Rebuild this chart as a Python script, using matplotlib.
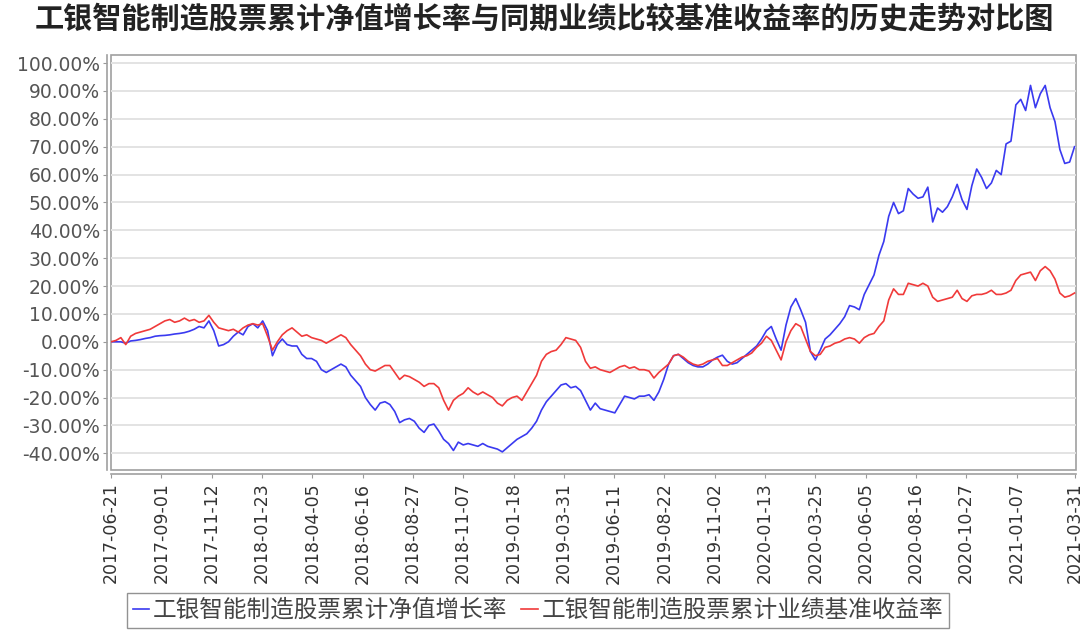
import pandas as pd
import matplotlib
matplotlib.use('Agg')
import matplotlib.pyplot as plt
import matplotlib.dates as mdates
from matplotlib.ticker import FuncFormatter, MultipleLocator

plt.rcParams['font.family'] = ['Noto Sans CJK SC', 'DejaVu Sans']

# data: weekly readings, in percent
START = '2017-06-21'
END = '2021-03-31'
dates = pd.date_range(START, END, freq='7D')

fund_nav = [
    0, 0, 0, -0.5, 0.3, 0.5, 0.8, 1.2, 1.5, 2,
    2.2, 2.3, 2.5, 2.8, 3, 3.3, 3.8, 4.5, 5.5, 5,
    7.5, 4, -1.5, -1, 0, 2, 3.5, 2.5, 5.5, 6.5,
    5, 7.5, 4, -5, -1, 1, -1, -1.5, -1.5, -4.5,
    -6, -6, -7, -10, -11, -10, -9, -8, -9, -12,
    -14, -16, -20, -22.5, -24.5, -22, -21.5, -22.5, -25, -29,
    -28, -27.5, -28.5, -31, -32.5, -30, -29.5, -32, -35, -36.5,
    -39, -36, -37, -36.5, -37, -37.5, -36.5, -37.5, -38, -38.5,
    -39.5, -38, -36.5, -35, -34, -33, -31, -28.5, -24.5, -21.5,
    -19.5, -17.5, -15.5, -15, -16.5, -16, -17.5, -21, -24.5, -22,
    -24, -24.5, -25, -25.5, -22.5, -19.5, -20, -20.5, -19.5, -19.5,
    -19, -21, -18, -13.5, -8, -5, -4.5, -6, -7.5, -8.5,
    -9, -9, -8, -6.5, -5.5, -4.8, -7, -8, -7.5, -6,
    -4.5, -3, -1.5, 1, 4, 5.5, 1, -3, 6, 12.5,
    15.5, 11.5, 7, -3.5, -6.5, -3, 1, 2.5, 4.5, 6.5,
    9, 13, 12.5, 11.5, 17, 20.5, 24, 31, 36, 45,
    50, 46, 47, 55, 53, 51.5, 52, 55.5, 43, 48,
    46.5, 48.5, 52, 56.5, 51, 47.5, 56, 62, 59, 55,
    57, 61.5, 60, 71, 72, 85, 87, 83, 92, 84,
    89, 92, 84, 79, 69, 64, 64.5, 70,
]

benchmark = [
    0, 0.5, 1.5, -1, 2, 3, 3.5, 4, 4.5, 5.5,
    6.5, 7.5, 8, 7, 7.5, 8.5, 7.5, 8, 7, 7.5,
    9.5, 7, 5, 4.5, 4, 4.5, 3.5, 5, 6, 6.5,
    6, 6.5, 2, -3, 0, 2.5, 4, 5, 3.5, 2,
    2.5, 1.5, 1, 0.5, -0.5, 0.5, 1.5, 2.5, 1.5, -1,
    -3, -5, -8, -10, -10.5, -9.5, -8.5, -8.5, -11, -13.5,
    -12, -12.5, -13.5, -14.5, -16, -15, -15, -16.5, -21, -24.5,
    -21, -19.5, -18.5, -16.5, -18, -19, -18, -19, -20, -22,
    -23, -21, -20, -19.5, -21, -18, -15, -12, -7, -4.5,
    -3.5, -3, -1, 1.5, 1, 0.5, -2, -7, -9.5, -9,
    -10, -10.5, -11, -10, -9, -8.5, -9.5, -9, -10, -10,
    -10.5, -13, -11, -9.5, -8, -5, -4.5, -5.5, -7, -8,
    -8.5, -8, -7, -6.5, -6, -8.5, -8.5, -7.5, -6.5, -5.5,
    -5, -4, -2, -0.5, 2, 0.5, -3, -6.5, 0, 4,
    6.5, 5.5, 1, -3.5, -5, -4.5, -2, -1.5, -0.5, 0,
    1, 1.5, 1, -0.5, 1.5, 2.5, 3, 5.5, 7.5, 15,
    19, 17, 17, 21, 20.5, 20, 21, 20, 16, 14.5,
    15, 15.5, 16, 18.5, 15.5, 14.5, 16.5, 17, 17, 17.5,
    18.5, 17, 17, 17.5, 18.5, 22, 24, 24.5, 25, 22,
    25.5, 27, 25.5, 22.5, 17.5, 16, 16.5, 17.5,
]

tick_dates = list(pd.date_range(START, '2021-01-07', freq='72D')) + [pd.Timestamp(END)]

TITLE = '工银智能制造股票累计净值增长率与同期业绩比较基准收益率的历史走势对比图'
LABEL_NAV = '工银智能制造股票累计净值增长率'
LABEL_BM = '工银智能制造股票累计业绩基准收益率'


def main():
    fig = plt.figure(figsize=(10.89, 6.33), dpi=100)
    ax = fig.add_axes([0.102, 0.2575, 0.886, 0.656])

    ax.plot(dates, fund_nav, color='#3a3af0', lw=1.2, label=LABEL_NAV)
    ax.plot(dates, benchmark, color='#f03a3a', lw=1.2, label=LABEL_BM)

    # axes range and ticks
    ax.set_xlim(pd.Timestamp(START), pd.Timestamp(END) + pd.Timedelta(days=2))
    ax.set_ylim(-46, 103)
    ax.yaxis.set_major_locator(MultipleLocator(10))
    ax.yaxis.set_major_formatter(FuncFormatter(lambda v, p: f'{v:.2f}%'))
    ax.set_xticks(tick_dates)
    ax.xaxis.set_major_formatter(mdates.DateFormatter('%Y-%m-%d'))

    ax.tick_params(axis='y', labelsize=13.5, labelcolor='#555555', color='#999999',
                   length=3, pad=2, labelfontfamily='DejaVu Sans')
    ax.tick_params(axis='x', labelsize=12.5, labelcolor='#333333', color='#999999',
                   length=3, pad=3, labelrotation=90, labelfontfamily='DejaVu Sans')

    # grid and frame
    ax.grid(axis='y', color='#e3e3e3', lw=1.4)
    ax.set_axisbelow(True)
    for side in ['top', 'right']:
        ax.spines[side].set_visible(False)
    for side in ['left', 'bottom']:
        ax.spines[side].set_position(('outward', 3))
        ax.spines[side].set_color('#a0a0a0')
        ax.spines[side].set_linewidth(1.2)
    ax.patch.set_edgecolor('#a0a0a0')
    ax.patch.set_linewidth(1.2)

    fig.text(0.5, 0.971, TITLE, ha='center', va='center', fontsize=21,
             fontweight='bold', color='#222222')

    leg = fig.legend(loc='upper left', bbox_to_anchor=(0.1166, 0.0632), ncol=2,
                     fontsize=17, frameon=True, fancybox=False, handlelength=0.7,
                     handletextpad=0.15, columnspacing=0.6, borderpad=0.25,
                     borderaxespad=0)
    leg.get_frame().set_edgecolor('#777777')
    leg.get_frame().set_linewidth(1.0)
    for t in leg.get_texts():
        t.set_color('#444444')

    fig.savefig('out.png', dpi=100)


if __name__ == '__main__':
    main()
